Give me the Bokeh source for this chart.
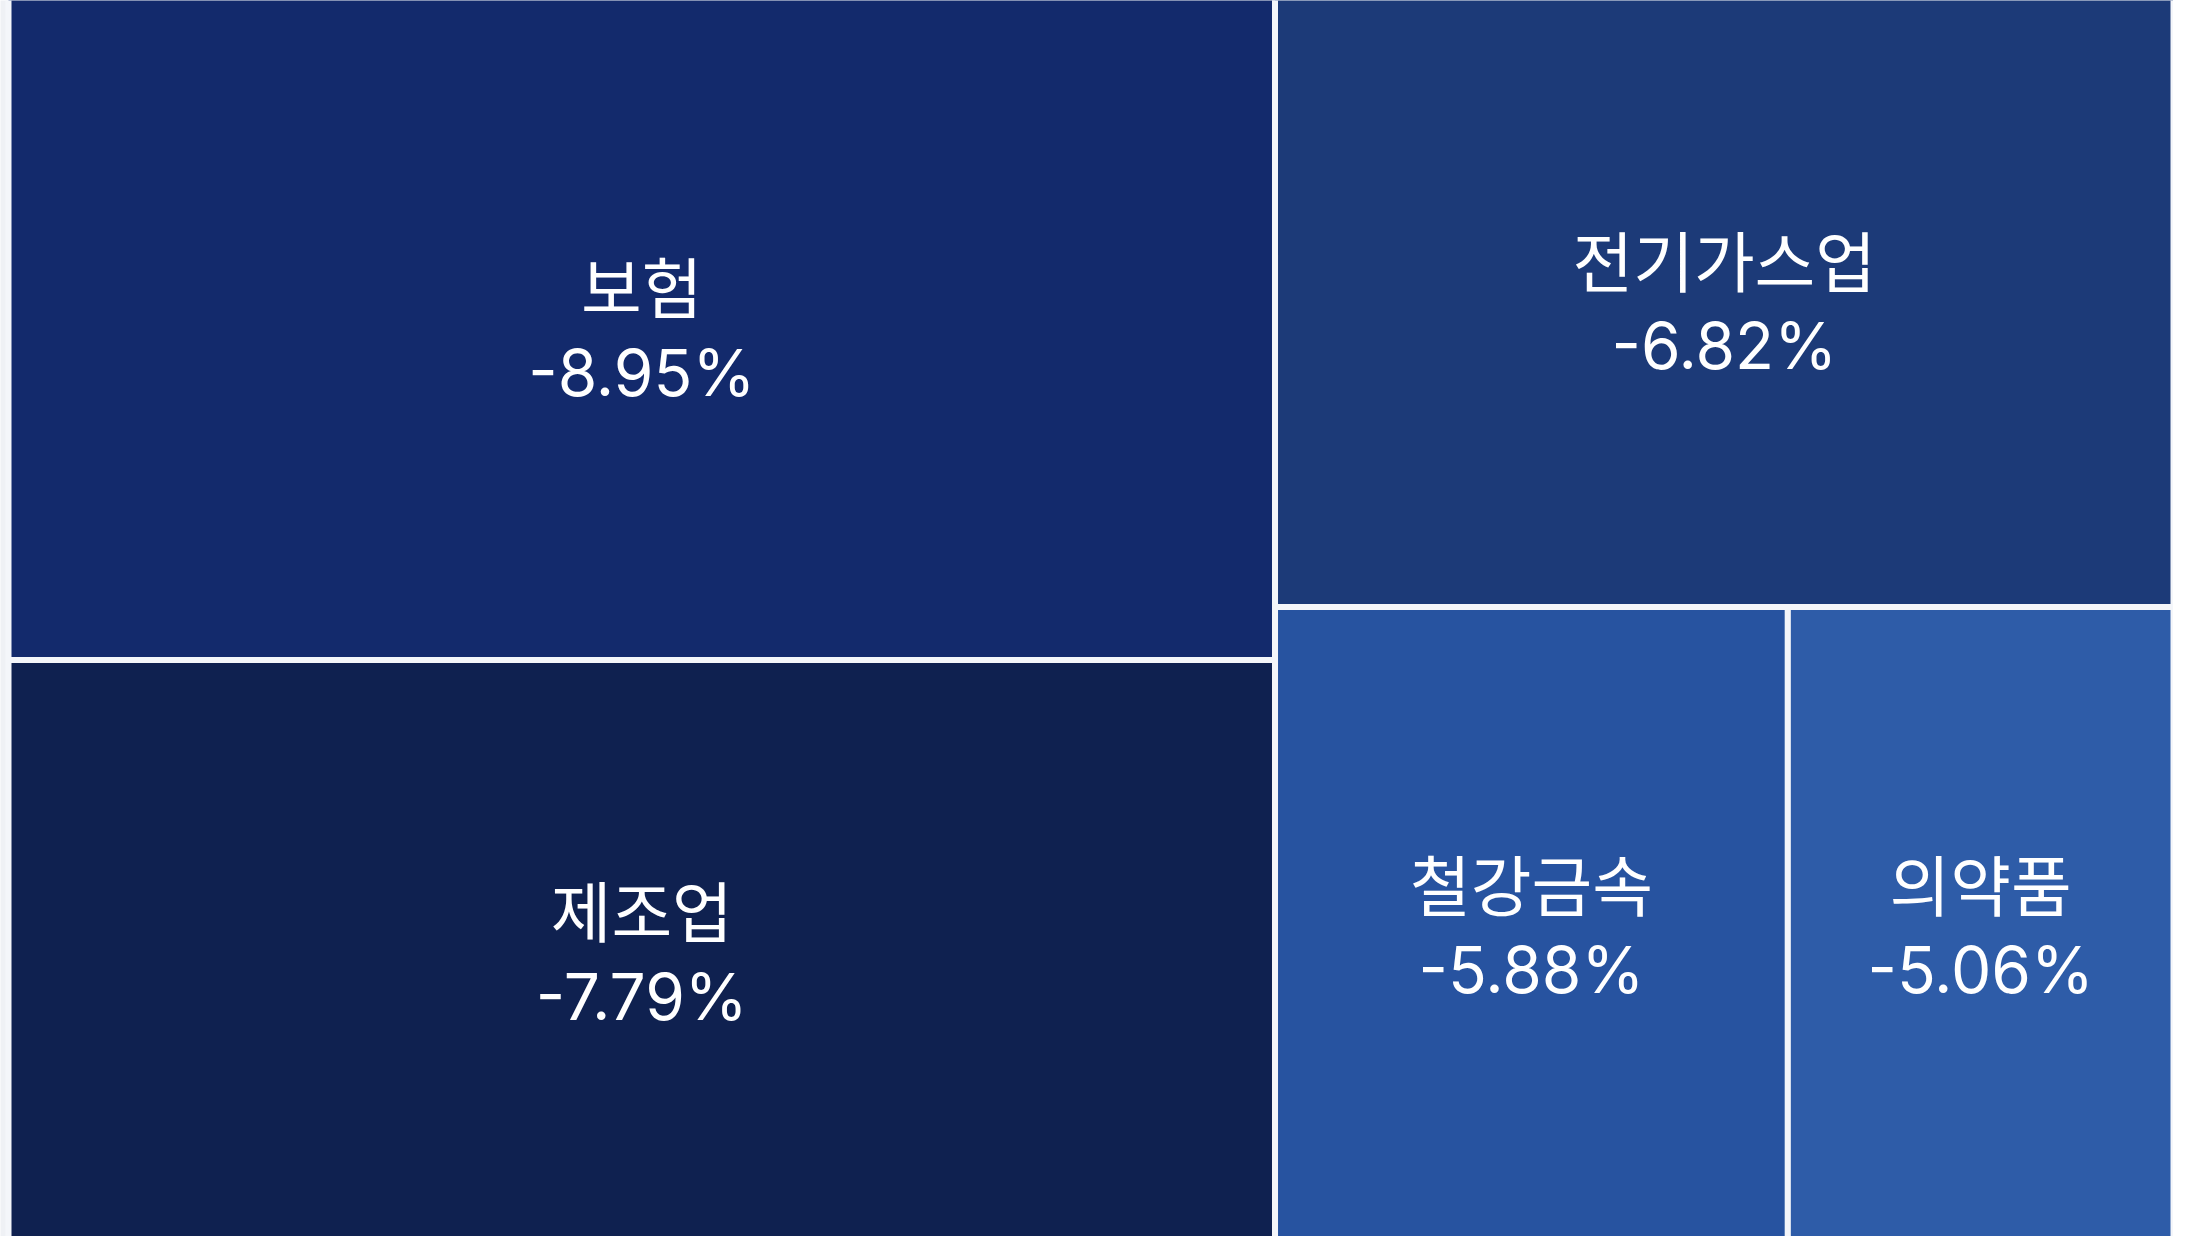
from bokeh.plotting import figure
from bokeh.models import Range1d, ColumnDataSource
from bokeh.core.properties import value
from bokeh.embed import file_html
from bokeh.resources import INLINE

# ---- data ----
sectors = ["보험", "제조업", "전기가스업", "철강금속", "의약품"]
changes = [-8.95, -7.79, -6.82, -5.88, -5.06]          # % change
sizes = [31.1, 27.4, 20.3, 12.1, 9.1]                    # area weights (estimated)
colors = ["#132a6c", "#0f2150", "#1c3a78", "#2753a0", "#2e5ca8"]

W, H = 2173, 1236
X0, Y0, X1, Y1 = 8, -4, W, H + 8

# ---- treemap layout (left column: 2 stacked, right column: 1 on top, 2 side by side) ----
total = sum(sizes)
left_w = (X1 - X0) * (sizes[0] + sizes[1]) / total
xl0, xl1 = X0, X0 + left_w
xr0, xr1 = xl1, X1
ysplit_l = Y0 + (Y1 - Y0) * sizes[0] / (sizes[0] + sizes[1])
right_sum = sizes[2] + sizes[3] + sizes[4]
ysplit_r = Y0 + (Y1 - Y0) * sizes[2] / right_sum
xsplit_b = xr0 + (xr1 - xr0) * sizes[3] / (sizes[3] + sizes[4])

left = [xl0, xl0, xr0, xr0, xsplit_b]
right = [xl1, xl1, xr1, xsplit_b, xr1]
top = [Y0, ysplit_l, Y0, ysplit_r, ysplit_r]
bottom = [ysplit_l, Y1, ysplit_r, Y1, Y1]

cx = [(a + b) / 2 for a, b in zip(left, right)]
cy = [(a + b) / 2 for a, b in zip(top, bottom)]

src = ColumnDataSource(dict(
    left=left, right=right, top=top, bottom=bottom, color=colors,
    cx=cx, ly=[c - 44 for c in cy], vy=[c + 44 for c in cy],
    label=sectors, val=[f"{v:.2f}%" for v in changes],
))

p = figure(width=W, height=H, output_backend="svg", toolbar_location=None,
           x_range=Range1d(0, W), y_range=Range1d(H, 0),
           min_border=0, min_border_left=0, min_border_right=0,
           min_border_top=0, min_border_bottom=0)
p.axis.visible = False
p.grid.visible = False
p.outline_line_color = None
p.background_fill_color = "#eff1f5"
p.border_fill_color = "#eff1f5"

p.quad(left="left", right="right", top="top", bottom="bottom", source=src,
       fill_color="color", line_color="#f4f6fa", line_width=6)

p.text(x="cx", y="ly", text="label", source=src, text_color="white",
       text_font=value("Noto Sans CJK KR"), text_font_size="66px",
       text_align="center", text_baseline="middle")
p.text(x="cx", y="vy", text="val", source=src, text_color="white",
       text_font=value("Inter"), text_font_size="64px",
       text_align="center", text_baseline="middle")

open("out.html", "w").write(file_html(p, INLINE))
